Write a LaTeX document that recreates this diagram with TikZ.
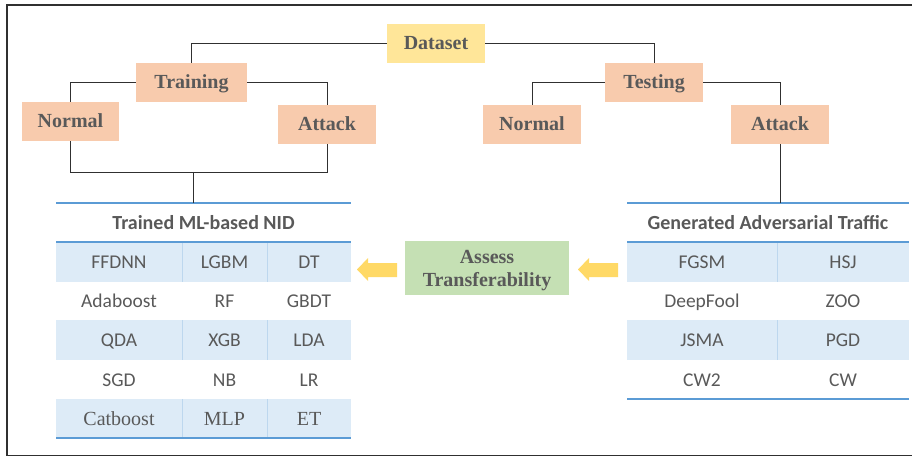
\documentclass[tikz,border=0pt]{standalone}
\usepackage{fontspec}
\setmainfont{Liberation Serif}
\newfontfamily\carlito{Carlito}
\definecolor{txt}{HTML}{595959}
\definecolor{rulec}{HTML}{5B9BD5}
\definecolor{band}{HTML}{DDEBF7}
\definecolor{sepc}{HTML}{BDD7EE}
\definecolor{peach}{HTML}{F8CBAD}
\definecolor{sand}{HTML}{FFE699}
\definecolor{mint}{HTML}{C5E0B4}
\definecolor{gold}{HTML}{FFD966}
\definecolor{linec}{HTML}{303030}
\begin{document}
\begin{tikzpicture}[x=1pt,y=-1pt,
  box/.style={inner sep=0pt, minimum width=98pt, minimum height=39pt,
    text=txt, font=\fontsize{20}{24}\selectfont\bfseries,
    text height=13pt, text depth=0pt},
  cell/.style={inner sep=0pt, text=txt, font=\carlito\fontsize{19.5}{23}\selectfont,
    text height=12.6pt, text depth=0pt},
  scell/.style={inner sep=0pt, text=txt, font=\fontsize{20}{24}\selectfont,
    text height=13.2pt, text depth=0pt},
  head/.style={inner sep=0pt, text=txt, font=\carlito\fontsize{20}{24}\selectfont\bfseries,
    text height=12.9pt, text depth=0pt},
  link/.style={draw=linec, line width=0.9pt},
  toprule/.style={draw=rulec, line width=1.4pt},
  midrule/.style={draw=rulec, line width=1.8pt},
  colsep/.style={draw=sepc, line width=0.8pt},
  blockarrow/.style={fill=gold, draw=none}]
\useasboundingbox (0,0) rectangle (912,457);
% outer frame
\draw[draw=linec, line width=1.3pt] (7,5) rectangle (925,455.5);

% tree of data splits
\node[box, fill=sand] (dataset) at (436,43.5) {Dataset};
\node[box, fill=peach, minimum width=111pt] (training) at (191.5,82.5) {Training};
\node[box, fill=peach] (testing) at (654,82.5) {Testing};
\node[box, fill=peach, minimum width=97pt] (normalL) at (70.5,121.5) {Normal};
\node[box, fill=peach] (attackL) at (327,124.5) {Attack};
\node[box, fill=peach] (normalR) at (532,124.5) {Normal};
\node[box, fill=peach] (attackR) at (780,124.5) {Attack};

\draw[link] (dataset.west) -| (training.north);
\draw[link] (dataset.east) -| (testing.north);
\draw[link] (training.west) -| (normalL.north);
\draw[link] (training.east) -| (attackL.north);
\draw[link] (testing.west) -| (normalR.north);
\draw[link] (testing.east) -| (attackR.north);

% left table: trained models
\fill[band] (56,242) rectangle (351,282);
\fill[band] (56,320) rectangle (351,360);
\fill[band] (56,399) rectangle (351,438);
\foreach \xs in {182,267} {
  \draw[colsep] (\xs,242) -- (\xs,282);
  \draw[colsep] (\xs,320) -- (\xs,360);
  \draw[colsep] (\xs,399) -- (\xs,438);
}
\draw[toprule] (56,203) -- (351,203);
\draw[midrule] (56,242) -- (351,242);
\draw[midrule] (56,438) -- (351,438);
\node[head] (hdrL) at (203.5,223) {Trained ML-based NID};
\foreach \r/\yy/\ca/\cb/\cc in {1/262/FFDNN/LGBM/DT, 2/301/Adaboost/RF/GBDT,
    3/340.5/QDA/XGB/LDA, 4/380/SGD/NB/LR} {
  \node[cell] (L\r a) at (119,\yy) {\ca};
  \node[cell] (L\r b) at (224.5,\yy) {\cb};
  \node[cell] (L\r c) at (309,\yy) {\cc};
}
\node[scell] (L5a) at (119,419) {Catboost};
\node[scell] (L5b) at (224.5,419) {MLP};
\node[scell] (L5c) at (309,419) {ET};

% left branches joined into the trained models
\coordinate (join) at (193,172);
\coordinate (ltop) at (193,203);
\draw[link] (normalL.south) |- (join);
\draw[link] (attackL.south) |- (join);
\draw[link] (join) -- (ltop);

% right table: adversarial traffic
\fill[band] (627,242) rectangle (909,282);
\fill[band] (627,320) rectangle (909,360);
\draw[colsep] (777,242) -- (777,282);
\draw[colsep] (777,320) -- (777,360);
\draw[toprule] (627,203) -- (909,203);
\draw[midrule] (627,242) -- (909,242);
\draw[midrule] (627,399) -- (909,399);
\node[head] (hdrR) at (768,223) {Generated Adversarial Traffic};
\foreach \r/\yy/\ca/\cb in {1/262/FGSM/HSJ, 2/301/DeepFool/ZOO,
    3/340.5/JSMA/PGD, 4/380/CW2/CW} {
  \node[cell] (R\r a) at (702,\yy) {\ca};
  \node[cell] (R\r b) at (843,\yy) {\cb};
}
\coordinate (rtop) at (780,203);
\draw[link] (attackR.south) -- (rtop);

% transferability assessment
\node[inner sep=0pt, fill=mint, minimum width=164pt, minimum height=54pt,
  text=txt, font=\fontsize{20}{23.4}\selectfont\bfseries]
  (assess) at (487,268)
  {\raisebox{-2.5pt}[\height][\depth]{\begin{tabular}{@{}c@{}}Assess\\Transferability\end{tabular}}};

\fill[blockarrow] (397,263) -- (368,263) -- (368,258) -- (357,269.5)
  -- (368,281) -- (368,277) -- (397,277) -- cycle;
\fill[blockarrow] (618,263) -- (589,263) -- (589,258) -- (578,269.5)
  -- (589,281) -- (589,277) -- (618,277) -- cycle;
\end{tikzpicture}
\end{document}
